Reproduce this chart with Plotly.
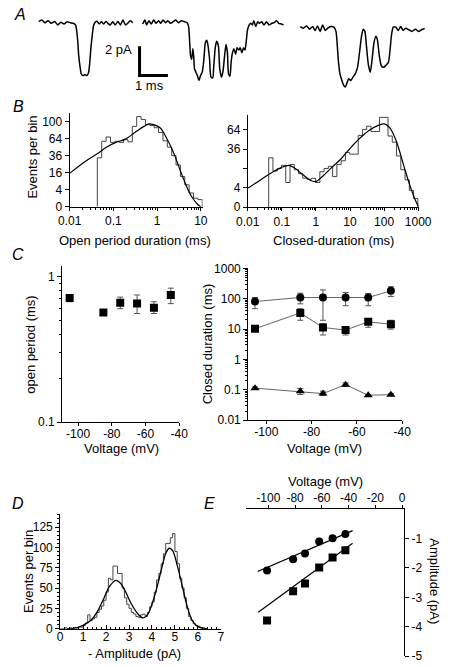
import numpy as np
import plotly.graph_objects as go

W, H = 453, 667
FONT = "Arial, Liberation Sans, Helvetica, sans-serif"

# ---------------- DATA ----------------
# Panel A: single-channel traces (time ms from trace start, current pA from baseline)
trace1_t = [0, 0.11, 0.22, 0.33, 0.44, 0.56, 0.67, 0.78, 0.89, 1.0, 1.11, 1.22, 1.30, 1.34, 1.38, 1.41, 1.46, 1.5,
            1.57, 1.63, 1.7, 1.76, 1.8, 1.84, 1.89, 1.93, 1.99, 2.06, 2.13, 2.21, 2.29, 2.37, 2.44, 2.52, 2.61,
            2.7, 2.79, 2.88, 2.97, 3.06, 3.14, 3.23, 3.32]
trace1_i = [0, 0.11, -0.07, 0.07, -0.11, 0.02, -0.22, -0.04, -0.16, 0, -0.07, -0.11, -0.22, -0.67, -1.44, -2.33,
            -3.11, -3.56, -3.67, -3.6, -3.67, -3.44, -2.78, -1.78, -0.89, -0.29, -0.04, 0.02, -0.16, 0, -0.16,
            0.02, -0.11, -0.22, 0, -0.22, 0.02, -0.22, 0.11, -0.22, -0.11, 0.07, -0.07]
trace2_t = [0, 0.08, 0.14, 0.22, 0.3, 0.39, 0.47, 0.56, 0.63, 0.72, 0.81, 0.89, 0.98, 1.08, 1.17, 1.26, 1.37,
            1.48, 1.57, 1.62, 1.66, 1.69, 1.73, 1.77, 1.8, 1.83, 1.88, 1.93, 1.99, 2.04, 2.1, 2.16, 2.21, 2.26,
            2.3, 2.36, 2.41, 2.47, 2.51, 2.56, 2.61, 2.67, 2.72, 2.78, 2.83, 2.89, 2.94, 2.99, 3.03, 3.08, 3.12,
            3.17, 3.22, 3.28, 3.33, 3.39, 3.44, 3.5, 3.56, 3.61, 3.66, 3.7, 3.76, 3.81, 3.87, 3.92, 3.99, 4.06,
            4.12, 4.2, 4.28, 4.37, 4.46, 4.56, 4.64, 4.72, 4.8, 4.89, 4.97]
trace2_i = [-0.16, 0.11, -0.22, 0.07, -0.16, 0.11, -0.11, 0.07, -0.11, 0.11, -0.07, 0.07, -0.11, 0, 0.11, -0.07,
            0.07, 0, -0.07, -0.33, -1.44, -2.33, -2.56, -1.84, -2.33, -3.22, -3.44, -3.67, -4.0, -3.67, -3.44,
            -2.56, -1.44, -1.27, -1.56, -2.56, -3.78, -3.84, -3.0, -1.78, -1.33, -1.62, -3.22, -3.78, -3.44,
            -2.33, -1.56, -2.11, -3.56, -3.71, -2.78, -2.11, -1.84, -2.22, -1.78, -1.93, -1.78, -2.11, -1.78,
            -1.93, -1.22, -0.56, -0.22, -0.11, -0.22, 0.07, -0.33, 0, -0.11, 0, -0.22, 0, -0.22, -0.11, -0.07,
            0.07, -0.11, -0.16, -0.22]
trace3_t = [0, 0.11, 0.22, 0.33, 0.44, 0.52, 0.61, 0.7, 0.79, 0.88, 0.97, 1.08, 1.19, 1.26, 1.3, 1.34, 1.4, 1.47,
            1.53, 1.59, 1.64, 1.71, 1.78, 1.86, 1.94, 2.02, 2.09, 2.16, 2.22, 2.28, 2.33, 2.4, 2.47, 2.53, 2.6,
            2.67, 2.72, 2.79, 2.86, 2.94, 3.03, 3.11, 3.17, 3.22, 3.28, 3.37, 3.46, 3.54, 3.63, 3.72, 3.83, 3.94,
            4.06, 4.17, 4.28, 4.39]
trace3_i = [0, -0.11, 0.04, -0.18, 0, -0.27, 0.04, -0.33, 0.11, -0.27, -0.11, 0, -0.04, -0.33, -1.11, -2.22,
            -3.22, -3.67, -4.0, -4.11, -3.89, -3.56, -3.67, -3.44, -3.22, -2.78, -1.78, -0.67, -0.18, -0.33,
            -1.22, -2.56, -3.11, -2.33, -1.11, -0.67, -0.89, -2.0, -2.67, -2.78, -2.62, -2.44, -1.56, -0.56,
            -0.04, -0.04, -0.27, 0, -0.27, -0.11, -0.22, -0.33, -0.18, -0.33, -0.22, -0.13]

# Panel B: open-period histogram (10 bins/decade from 0.043 ms), counts per bin
open_bin_start_ms = 0.043
open_bins_per_decade = 10
open_counts = [33, 59, 67, 57, 59, 57, 62, 58, 89, 112, 105, 93, 91, 86, 76, 60, 49, 36, 24, 12.5, 6.6,
               2.6, 1.0, 0.7]
open_fit_ms = [0.01, 0.0218, 0.0426, 0.069, 0.114, 0.188, 0.31, 0.51, 0.65, 0.83, 1.17, 1.62, 2.27, 3.16,
               4.4, 6.1, 8.5, 10.0]
open_fit_n = [15.3, 27.6, 38.5, 48.6, 57, 63, 75.7, 89.5, 94.7, 93, 86, 66, 43.4, 21.9, 7.6, 1.5, 0.07, 0]

# Panel B: closed-duration histogram (8 bins/decade from 0.041 ms)
closed_bin_start_ms = 0.0412
closed_bins_per_decade = 8
closed_counts = [26, 14, 16, 18.7, 6.5, 19.5, 15, 12, 9, 8.3, 8.9, 6.5, 13.4, 16, 17.8, 10, 19.5, 23, 32,
                 30, 30, 55, 64.5, 70, 61, 61, 86, 86, 54, 45, 28, 15, 8, 3, 0.8]
closed_fit_ms = [0.0103, 0.0219, 0.0457, 0.096, 0.163, 0.25, 0.426, 0.73, 1.0, 1.52, 2.88, 5.5, 10.2, 19.4,
                 37, 70, 102, 147, 226, 310, 426, 585, 810, 1000]
closed_fit_n = [3.9, 7.5, 12.1, 16.7, 18.7, 15.9, 11, 7.5, 7, 9.9, 16.7, 25, 37.3, 50.7, 62.9, 71.7, 74, 67,
                47, 28.4, 13.4, 4.6, 0.62, 0.01]

# Panel C: voltage dependence
voltage_mV = [-105, -85, -75, -65, -55, -45]
open_period_ms = [0.71, 0.565, 0.66, 0.65, 0.61, 0.745]
open_period_hi = [0.75, 0.58, 0.72, 0.745, 0.67, 0.83]
open_period_lo = [0.67, 0.55, 0.60, 0.556, 0.556, 0.65]

closed_long_ms = [81, 110, 110, 110, 110, 182]
closed_long_hi = [110, 152, 195, 160, 148, 250]
closed_long_lo = [47, 68, 19.5, 59, 59, 118]
closed_mid_ms = [10.3, 34, 11.3, 9.3, 17.3, 14.5]
closed_mid_hi = [11.5, 47, 15, 11.5, 21, 19.5]
closed_mid_lo = [9.5, 19.5, 6.4, 6.4, 11.5, 10]
closed_short_ms = [0.113, 0.089, 0.075, 0.148, 0.066, 0.069]
closed_short_hi = [0.125, 0.11, 0.09, 0.17, 0.07, 0.075]
closed_short_lo = [0.105, 0.07, 0.065, 0.13, 0.062, 0.064]

# Panel D: amplitude histogram (0.1 pA bins from 0)
amp_bin_start = 0.0
amp_bin_width = 0.1
amp_counts = [0, 0, 1, 0, 1, 0, 1, 1, 2, 2, 4, 7, 17, 10, 12, 14, 20, 24, 28, 35, 45, 62, 60, 77, 77, 68, 68,
              50, 38, 30, 25, 20, 18, 15, 14, 17, 18, 15, 20, 27, 33, 45, 60, 68, 80, 92, 105, 105, 112, 117,
              95, 80, 62, 50, 38, 25, 15, 10, 6, 4, 3, 1, 1, 0]
amp_fit_pA = [0.3, 0.7, 0.99, 1.33, 1.6, 1.88, 2.15, 2.43, 2.63, 2.84, 3.11, 3.39, 3.6, 3.8, 4.0, 4.21, 4.42,
              4.62, 4.76, 4.9, 5.1, 5.31, 5.51, 5.72, 5.93, 6.13, 6.4]
amp_fit_n = [0, 1, 4, 10, 20, 36, 52, 59.4, 56, 46, 30, 18, 13.2, 17, 30, 50, 74, 94, 99, 96, 78, 54, 30, 12,
             4, 1, 0]

# Panel E: amplitude-voltage relation
iv_small_mV = [-101, -81.5, -72.6, -62, -52, -42.4]
iv_small_pA = [-2.09, -1.70, -1.51, -1.10, -0.99, -0.84]
iv_large_mV = [-101, -81.5, -72.6, -62, -52, -42.4]
iv_large_pA = [-3.79, -2.79, -2.53, -1.98, -1.64, -1.40]
fit_small_mV = [-108, -37]
fit_small_pA = [-2.12, -0.73]
fit_large_mV = [-107.6, -37]
fit_large_pA = [-3.51, -1.16]

# ---------------- HELPERS ----------------
def dx(x0, x1):
    return [x0 / W, x1 / W]

def dy(y0, y1):
    return [1 - y1 / H, 1 - y0 / H]

def steps(edges, counts, f=lambda v: v):
    xs, ys = [edges[0]], [0]
    for i, c in enumerate(counts):
        xs += [edges[i], edges[i + 1]]
        ys += [f(c), f(c)]
    xs.append(edges[-1]); ys.append(0)
    return xs, ys

tickfont = dict(family=FONT, size=12, color="black")
base_ax = dict(showline=True, linecolor="black", linewidth=1, ticks="outside", ticklen=4, tickwidth=1,
               tickcolor="black", showgrid=False, zeroline=False, tickfont=tickfont)

fig = go.Figure()

# ---------------- Panel A ----------------
A_off = [(0.944, 0.0), (4.61, 0.0), (10.17, -0.33)]
for (t, i), (t0, i0) in zip([(trace1_t, trace1_i), (trace2_t, trace2_i), (trace3_t, trace3_i)], A_off):
    fig.add_trace(go.Scatter(x=[v + t0 for v in t], y=[v + i0 for v in i], mode="lines",
                             line=dict(color="black", width=1.5, shape="spline", smoothing=0.6),
                             xaxis="x", yaxis="y", showlegend=False, hoverinfo="skip"))
# scale bar: 1 ms x 2 pA
fig.add_trace(go.Scatter(x=[4.5, 4.5, 5.5], y=[-1.67, -3.67, -3.67], mode="lines",
                         line=dict(color="black", width=3), xaxis="x", yaxis="y", showlegend=False))

# ---------------- Panel B ----------------
open_edges = [open_bin_start_ms * 10 ** (k / open_bins_per_decade) for k in range(len(open_counts) + 1)]
xs, ys = steps(open_edges, open_counts, np.sqrt)
fig.add_trace(go.Scatter(x=xs, y=ys, mode="lines", line=dict(color="#444", width=1),
                         xaxis="x2", yaxis="y2", showlegend=False))
fig.add_trace(go.Scatter(x=open_fit_ms, y=np.sqrt(open_fit_n), mode="lines",
                         line=dict(color="black", width=1.2, shape="spline"),
                         xaxis="x2", yaxis="y2", showlegend=False))

closed_edges = [closed_bin_start_ms * 10 ** (k / closed_bins_per_decade) for k in range(len(closed_counts) + 1)]
xs, ys = steps(closed_edges, closed_counts, np.sqrt)
fig.add_trace(go.Scatter(x=xs, y=ys, mode="lines", line=dict(color="#444", width=1),
                         xaxis="x3", yaxis="y3", showlegend=False))
fig.add_trace(go.Scatter(x=closed_fit_ms, y=np.sqrt(closed_fit_n), mode="lines",
                         line=dict(color="black", width=1.2, shape="spline"),
                         xaxis="x3", yaxis="y3", showlegend=False))

# ---------------- Panel C ----------------
def err(v, hi, lo):
    return dict(type="data", symmetric=False, array=[h - a for h, a in zip(hi, v)],
                arrayminus=[a - l for l, a in zip(lo, v)], color="#555", thickness=1, width=3)

fig.add_trace(go.Scatter(x=voltage_mV, y=open_period_ms, mode="markers",
                         marker=dict(symbol="square", size=8, color="black"),
                         error_y=err(open_period_ms, open_period_hi, open_period_lo),
                         xaxis="x4", yaxis="y4", showlegend=False))
for vals, hi, lo, sym in [(closed_long_ms, closed_long_hi, closed_long_lo, "circle"),
                          (closed_mid_ms, closed_mid_hi, closed_mid_lo, "square"),
                          (closed_short_ms, closed_short_hi, closed_short_lo, "triangle-up")]:
    fig.add_trace(go.Scatter(x=voltage_mV, y=vals, mode="lines+markers",
                             line=dict(color="#666", width=1),
                             marker=dict(symbol=sym, size=8, color="black"),
                             error_y=err(vals, hi, lo),
                             xaxis="x5", yaxis="y5", showlegend=False))

# ---------------- Panel D ----------------
amp_edges = [amp_bin_start + k * amp_bin_width for k in range(len(amp_counts) + 1)]
xs, ys = steps(amp_edges, amp_counts)
fig.add_trace(go.Scatter(x=xs, y=ys, mode="lines", line=dict(color="#444", width=1),
                         xaxis="x6", yaxis="y6", showlegend=False))
fig.add_trace(go.Scatter(x=amp_fit_pA, y=amp_fit_n, mode="lines",
                         line=dict(color="black", width=1.3, shape="spline"),
                         xaxis="x6", yaxis="y6", showlegend=False))

# ---------------- Panel E ----------------
fig.add_trace(go.Scatter(x=fit_small_mV, y=fit_small_pA, mode="lines", line=dict(color="black", width=1.2),
                         xaxis="x7", yaxis="y7", showlegend=False))
fig.add_trace(go.Scatter(x=fit_large_mV, y=fit_large_pA, mode="lines", line=dict(color="black", width=1.2),
                         xaxis="x7", yaxis="y7", showlegend=False))
fig.add_trace(go.Scatter(x=iv_small_mV, y=iv_small_pA, mode="markers",
                         marker=dict(symbol="circle", size=8, color="black"),
                         xaxis="x7", yaxis="y7", showlegend=False))
fig.add_trace(go.Scatter(x=iv_large_mV, y=iv_large_pA, mode="markers",
                         marker=dict(symbol="square", size=8, color="black"),
                         xaxis="x7", yaxis="y7", showlegend=False))

# ---------------- AXES ----------------
minor_log = dict(ticks="outside", ticklen=2, tickcolor="black", dtick="D1", showgrid=False)
volt_ticks = [-100, -80, -60, -40]

layout = dict(
    width=W, height=H, margin=dict(l=0, r=0, t=0, b=0), plot_bgcolor="white", paper_bgcolor="white",
    font=dict(family=FONT, size=12, color="black"), showlegend=False,
    xaxis=dict(domain=[0, 1], range=[0, W / 30], visible=False, anchor="y"),
    yaxis=dict(domain=dy(0, 90), range=[-5, 1], visible=False, anchor="x"),
    xaxis2=dict(base_ax, domain=dx(61, 201.7), type="log", range=[-2, 1.04], anchor="y2", ticklen=3,
                tickvals=[0.01, 0.1, 1, 10], ticktext=["0.01", "0.1", "1", "10"], minor=minor_log),
    yaxis2=dict(base_ax, domain=dy(108.3, 204), range=[0, 11.0], anchor="x2",
                tickvals=[0, 2, 4, 6, 8, 10], ticktext=["0", "4", "16", "36", "64", "100"]),
    xaxis3=dict(base_ax, domain=dx(249.5, 431), type="log", range=[-2, 3.03], anchor="y3", ticklen=3,
                tickvals=[0.01, 0.1, 1, 10, 100, 1000], ticktext=["0.01", "0.1", "1", "10", "100", "1000"],
                minor=minor_log),
    yaxis3=dict(base_ax, domain=dy(110, 204.5), range=[0, 9.55], anchor="x3",
                tickvals=[0, 2, 4, 6, 8], ticktext=["0", "4", "", "36", "64"]),
    xaxis4=dict(base_ax, domain=dx(53, 177), range=[-109.5, -40], anchor="y4", ticklen=3,
                ticklabelstandoff=-3, tickvals=volt_ticks, ticktext=[str(v) for v in volt_ticks]),
    yaxis4=dict(base_ax, domain=dy(265, 424), type="log", range=[-1, 0.068], anchor="x4",
                tickvals=[0.1, 1], ticktext=["0.1", "1"], minor=minor_log),
    xaxis5=dict(base_ax, domain=dx(250, 413), range=[-108, -40], anchor="y5", ticklen=3,
                ticklabelstandoff=-3, tickvals=volt_ticks, ticktext=[str(v) for v in volt_ticks]),
    yaxis5=dict(base_ax, domain=dy(267, 422), type="log", range=[-2, 3], anchor="x5",
                tickvals=[0.01, 0.1, 1, 10, 100, 1000], ticktext=["0.01", "0.1", "1", "10", "100", "1000"],
                minor=minor_log),
    xaxis6=dict(base_ax, domain=dx(51, 221), range=[0, 7], anchor="y6", dtick=1, ticks="inside",
                ticklabelstandoff=-3,
                minor=dict(ticks="inside", ticklen=2, dtick=0.2, tickcolor="black")),
    yaxis6=dict(base_ax, domain=dy(518, 635), range=[0, 141], anchor="x6",
                tickvals=[0, 25, 50, 75, 100, 125],
                minor=dict(ticks="outside", ticklen=2, dtick=5, tickcolor="black")),
    xaxis7=dict(base_ax, domain=dx(248, 415), range=[-116.5, 1.5], anchor="y7", side="top", ticklen=3,
                ticklabelstandoff=-2, tickvals=[-120, -100, -80, -60, -40, -20, 0],
                ticktext=["-120", "-100", "-80", "-60", "-40", "-20", "0"]),
    yaxis7=dict(base_ax, domain=dy(513, 663), range=[-5, 0], anchor="x7", side="right",
                tickvals=[-1, -2, -3, -4, -5], ticktext=["-1", "-2", "-3", "-4", "-5"]),
)
fig.update_layout(**layout)

# ---------------- TEXT ----------------
def ann(text, x, y, size=13, angle=0, italic=False, xanchor="center"):
    fig.add_annotation(text=f"<i>{text}</i>" if italic else text, x=x / W, y=1 - y / H, xref="paper",
                       yref="paper", showarrow=False, textangle=angle, xanchor=xanchor, yanchor="middle",
                       font=dict(family=FONT, size=size, color="black"))

for letter, x, y in [("A", 8, 8), ("B", 7, 102), ("C", 6, 253), ("D", 6, 507), ("E", 209, 507)]:
    ann(letter, x, y, size=16, italic=True)

ann("2 pA", 129, 43, xanchor="right")
ann("1 ms", 146, 80)
ann("Events per bin", 22, 153, angle=-90)
ann("Open period duration (ms)", 130, 238)
ann("Closed-duration (ms)", 340, 238)
ann("open period (ms)", 20, 345, angle=-90)
ann("Closed duration (ms)", 207, 344, angle=-90)
ann("Voltage (mV)", 116, 451)
ann("Voltage (mV)", 331, 451)
ann("Events per bin", 18, 577, angle=-90)
ann("- Amplitude (pA)", 130, 660)
ann("Voltage (mV)", 332, 485)
ann("Amplitude (pA)", 447, 587, angle=90)

fig.write_html("out.html", config={"displayModeBar": False},
               post_script="document.body.style.margin='0';document.body.style.overflow='hidden';")
